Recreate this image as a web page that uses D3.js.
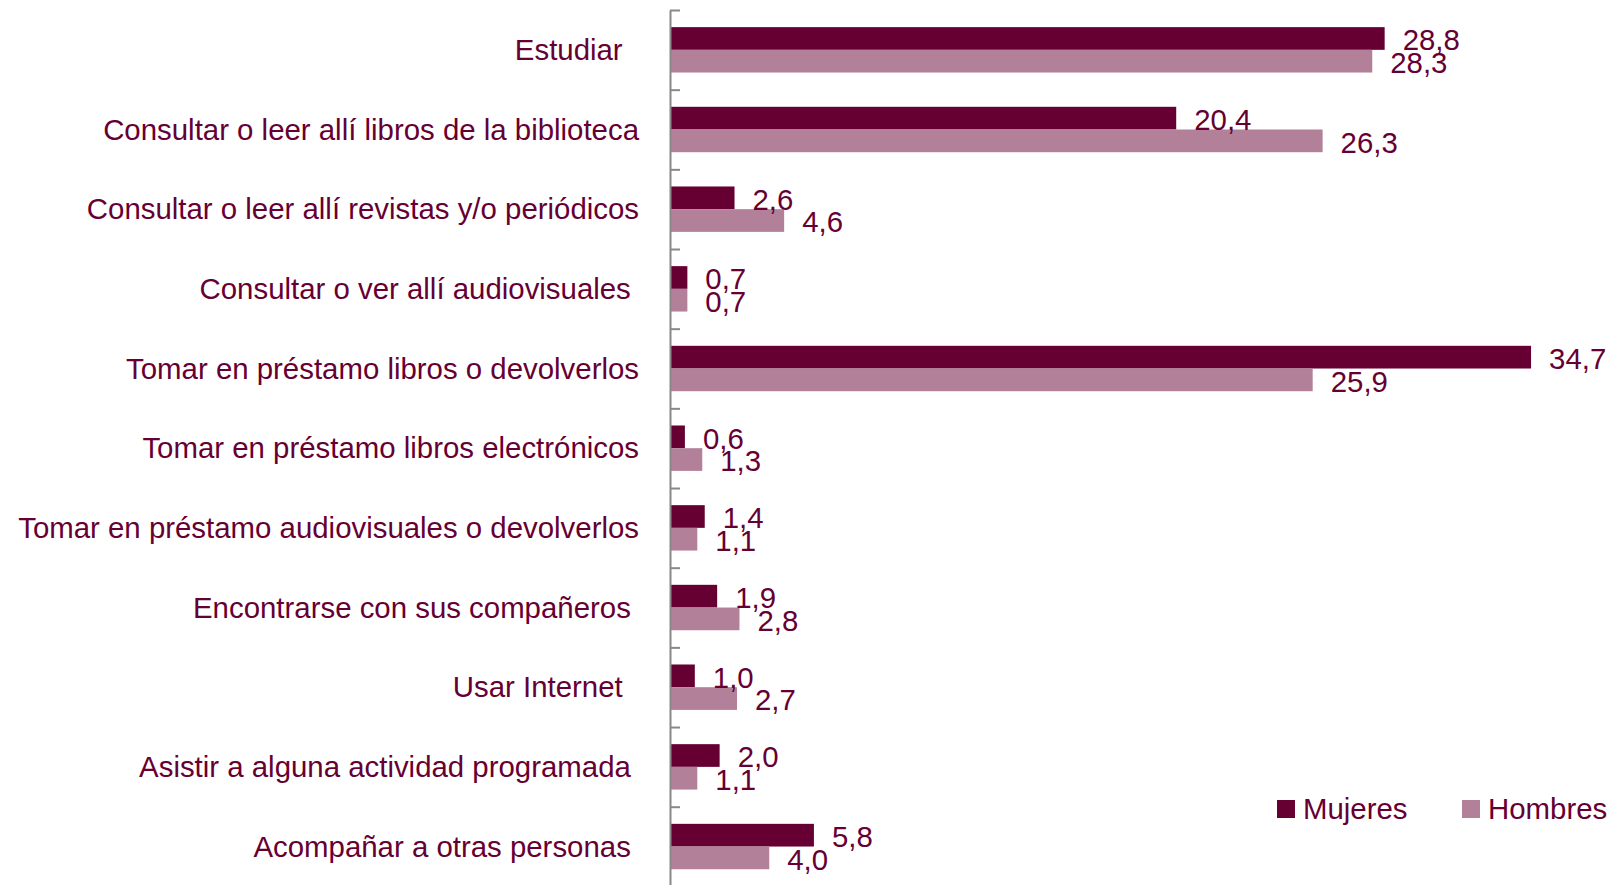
<!DOCTYPE html>
<html>
<head>
<meta charset="utf-8">
<script src="https://cdn.jsdelivr.net/npm/d3@7"></script>
<style>
  body { margin: 0; background: #fff; }
  svg text { font-family: "Liberation Sans", Arial, sans-serif; fill: #660033; }
</style>
</head>
<body>
<div id="chart"></div>
<script>
var width = 1614, height = 885;

// data
var categories = [
    "Estudiar  ",
    "Consultar o leer allí libros de la biblioteca",
    "Consultar o leer allí revistas y/o periódicos",
    "Consultar o ver allí audiovisuales ",
    "Tomar en préstamo libros o devolverlos",
    "Tomar en préstamo libros electrónicos",
    "Tomar en préstamo audiovisuales o devolverlos",
    "Encontrarse con sus compañeros ",
    "Usar Internet  ",
    "Asistir a alguna actividad programada ",
    "Acompañar a otras personas "
];
var seriesNames = ["Mujeres", "Hombres"];
var mujeres = [28.8, 20.4, 2.6, 0.7, 34.7, 0.6, 1.4, 1.9, 1.0, 2.0, 5.8];
var hombres = [28.3, 26.3, 4.6, 0.7, 25.9, 1.3, 1.1, 2.8, 2.7, 1.1, 4.0];

var color = d3.scaleOrdinal()
    .domain(seriesNames)
    .range(["#660033", "#b3809a"]);

var axisX = 670, top0 = 10, band = 79.67;

var svg = d3.select("#chart").append("svg")
    .attr("width", width)
    .attr("height", height);

var x = d3.scaleLinear()
    .domain([0, 35])
    .range([axisX, axisX + 868.5]);

var y = d3.scaleBand()
    .domain(categories)
    .range([top0, top0 + band * categories.length]);

var inner = d3.scaleBand()
    .domain(seriesNames)
    .range([(band - 45.4) / 2, (band + 45.4) / 2]);

var fmt = function(v) { return d3.format(".1f")(v).replace(".", ","); };

var rows = categories.map(function(c, i) {
    return {cat: c, values: [
        {name: "Mujeres", value: mujeres[i]},
        {name: "Hombres", value: hombres[i]}
    ]};
});

var row = svg.selectAll("g.row")
    .data(rows)
    .enter().append("g")
    .attr("class", "row")
    .attr("transform", d => "translate(0," + y(d.cat) + ")");

row.selectAll("rect")
    .data(d => d.values)
    .enter().append("rect")
    .attr("x", x(0))
    .attr("y", d => inner(d.name))
    .attr("width", d => x(d.value) - x(0))
    .attr("height", inner.bandwidth())
    .style("fill", d => color(d.name));

row.selectAll("text.val")
    .data(d => d.values)
    .enter().append("text")
    .attr("class", "val")
    .attr("x", d => x(d.value) + 18)
    .attr("y", d => inner(d.name) + inner.bandwidth() / 2 + 1.5)
    .attr("dy", ".35em")
    .style("font-size", "29.4px")
    .text(d => fmt(d.value));

// category labels
row.append("text")
    .attr("x", 639)
    .attr("y", band / 2)
    .attr("dy", ".35em")
    .attr("text-anchor", "end")
    .style("white-space", "pre")
    .style("font-size", "29.4px")
    .text(d => d.cat);

// axis with ticks on band boundaries
var tickScale = d3.scaleLinear()
    .domain([0, categories.length])
    .range([top0, top0 + band * categories.length]);

var axis = svg.append("g")
    .attr("transform", "translate(" + axisX + ",0)")
    .call(d3.axisLeft(tickScale)
        .tickValues(d3.range(0, categories.length + 1))
        .tickSizeInner(-10)
        .tickSizeOuter(0)
        .tickFormat(""));
axis.select(".domain").style("stroke", "#888").style("stroke-width", 2);
axis.selectAll(".tick line").style("stroke", "#888").style("stroke-width", 2);

// legend
var legendX = [1277, 1462];
var legend = svg.selectAll("g.legend")
    .data(seriesNames)
    .enter().append("g")
    .attr("class", "legend")
    .attr("transform", (d, i) => "translate(" + legendX[i] + ",800)");

legend.append("rect")
    .attr("width", 18)
    .attr("height", 18)
    .style("fill", color);

legend.append("text")
    .attr("x", 26)
    .attr("y", 19)
    .style("font-size", "29.4px")
    .text(d => d);
</script>
</body>
</html>
